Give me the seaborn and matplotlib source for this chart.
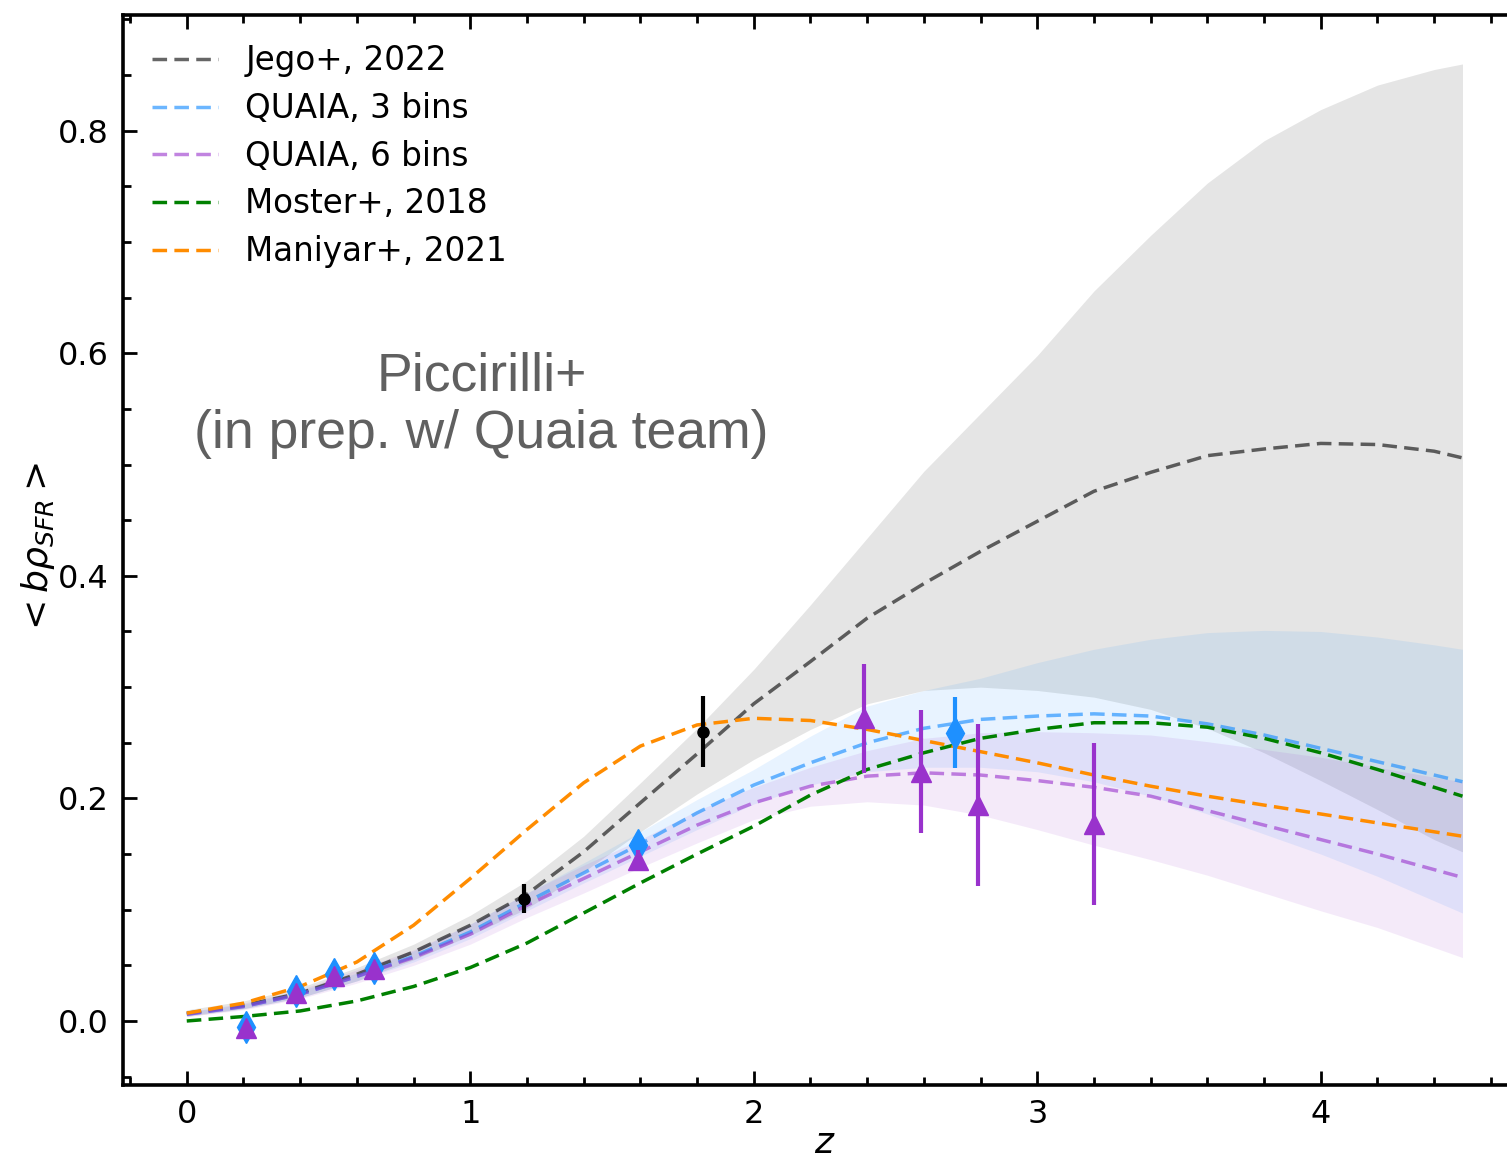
import numpy as np
import pandas as pd
import seaborn as sns
import matplotlib
matplotlib.use("Agg")
import matplotlib.pyplot as plt
from matplotlib.ticker import MultipleLocator

# Redshift grid of the model curves
z = [0.0, 0.2, 0.4, 0.6, 0.8, 1.0, 1.2, 1.4, 1.6, 1.8, 2.0, 2.2, 2.4, 2.6, 2.8,
     3.0, 3.2, 3.4, 3.6, 3.8, 4.0, 4.2, 4.4, 4.5]

# Jego+ 2022 model and its uncertainty band
jego = [0.007, 0.014, 0.025, 0.042, 0.062, 0.086, 0.114, 0.152, 0.196, 0.240, 0.285, 0.323,
        0.362, 0.393, 0.422, 0.449, 0.476, 0.493, 0.508, 0.514, 0.519, 0.518, 0.512, 0.506]
jego_lo = [0.004, 0.011, 0.021, 0.036, 0.055, 0.077, 0.101, 0.134, 0.170, 0.204, 0.235, 0.262,
           0.285, 0.297, 0.300, 0.297, 0.291, 0.280, 0.263, 0.241, 0.216, 0.190, 0.163, 0.152]
jego_hi = [0.010, 0.018, 0.030, 0.048, 0.069, 0.095, 0.126, 0.166, 0.214, 0.263, 0.316, 0.374,
           0.434, 0.494, 0.546, 0.598, 0.656, 0.706, 0.753, 0.791, 0.819, 0.841, 0.855, 0.860]

# QUAIA fits, 3 redshift bins
q3 = [0.006, 0.013, 0.024, 0.040, 0.058, 0.080, 0.107, 0.133, 0.159, 0.187, 0.212, 0.232,
      0.250, 0.263, 0.271, 0.274, 0.276, 0.274, 0.267, 0.257, 0.245, 0.233, 0.221, 0.215]
q3_lo = [0.005, 0.011, 0.021, 0.036, 0.053, 0.074, 0.099, 0.124, 0.148, 0.172, 0.195, 0.212,
         0.224, 0.228, 0.228, 0.224, 0.215, 0.202, 0.186, 0.168, 0.150, 0.130, 0.108, 0.097]
q3_hi = [0.008, 0.015, 0.027, 0.043, 0.063, 0.087, 0.115, 0.142, 0.170, 0.199, 0.226, 0.256,
         0.283, 0.297, 0.308, 0.322, 0.334, 0.343, 0.349, 0.351, 0.350, 0.345, 0.338, 0.334]

# QUAIA fits, 6 redshift bins
q6 = [0.006, 0.013, 0.024, 0.040, 0.057, 0.078, 0.104, 0.128, 0.152, 0.176, 0.196, 0.211,
      0.220, 0.223, 0.221, 0.216, 0.210, 0.202, 0.189, 0.176, 0.163, 0.150, 0.136, 0.129]
q6_lo = [0.004, 0.010, 0.020, 0.034, 0.050, 0.069, 0.093, 0.115, 0.138, 0.160, 0.181, 0.193,
         0.197, 0.194, 0.185, 0.172, 0.158, 0.145, 0.131, 0.115, 0.099, 0.084, 0.066, 0.057]
q6_hi = [0.008, 0.016, 0.028, 0.046, 0.064, 0.087, 0.115, 0.140, 0.163, 0.189, 0.210, 0.228,
         0.243, 0.254, 0.259, 0.260, 0.259, 0.257, 0.251, 0.244, 0.237, 0.228, 0.219, 0.215]

# Literature models
moster = [0.000, 0.004, 0.009, 0.018, 0.031, 0.048, 0.070, 0.097, 0.124, 0.150, 0.175, 0.203,
          0.226, 0.241, 0.254, 0.262, 0.268, 0.268, 0.264, 0.254, 0.241, 0.226, 0.210, 0.202]
maniyar = [0.007, 0.016, 0.031, 0.053, 0.086, 0.128, 0.172, 0.214, 0.247, 0.266, 0.272, 0.270,
           0.262, 0.252, 0.242, 0.232, 0.221, 0.211, 0.202, 0.194, 0.186, 0.178, 0.170, 0.166]

# Measurements with error bars
pts_k_z = [1.19, 1.82]
pts_k_y = [0.110, 0.260]
pts_k_err = [0.013, 0.032]

pts_q3_z = [0.21, 0.385, 0.52, 0.66, 1.59, 2.71]
pts_q3_y = [-0.005, 0.027, 0.042, 0.048, 0.158, 0.259]
pts_q3_err = [0.003, 0.003, 0.003, 0.003, 0.011, 0.032]

pts_q6_z = [0.21, 0.385, 0.52, 0.66, 1.59, 2.39, 2.59, 2.79, 3.20]
pts_q6_y = [-0.006, 0.025, 0.040, 0.047, 0.145, 0.272, 0.224, 0.194, 0.177]
pts_q6_err = [0.003, 0.003, 0.003, 0.003, 0.009, 0.049, 0.055, 0.073, 0.073]

labels = ["Jego+, 2022", "QUAIA, 3 bins", "QUAIA, 6 bins", "Moster+, 2018", "Maniyar+, 2021"]

sns.set_style("ticks")
plt.rcParams["font.family"] = ["DejaVu Sans"]
plt.rcParams["mathtext.fontset"] = "dejavusans"
plt.rcParams.update({"text.color": "black", "axes.labelcolor": "black",
                     "xtick.color": "black", "ytick.color": "black",
                     "axes.edgecolor": "black"})

fig = plt.figure(figsize=(15.07, 11.62), dpi=100)
ax = fig.add_axes([0.0816, 0.0663, 0.9312, 0.9208])

# Uncertainty bands
ax.fill_between(z, jego_lo, jego_hi, color="k", alpha=0.1, linewidth=0)
ax.fill_between(z, q3_lo, q3_hi, color="dodgerblue", alpha=0.1, linewidth=0)
ax.fill_between(z, q6_lo, q6_hi, color="darkorchid", alpha=0.1, linewidth=0)

curves = pd.DataFrame({"z": z, labels[0]: jego, labels[1]: q3, labels[2]: q6,
                       labels[3]: moster, labels[4]: maniyar})
styles = [("k", 0.6), ("dodgerblue", 0.65), ("darkorchid", 0.6), ("green", 1.0), ("darkorange", 1.0)]
for lab, (col, a) in zip(labels, styles):
    sns.lineplot(data=curves, x="z", y=lab, ax=ax, color=col, alpha=a,
                 linestyle="--", linewidth=2.5, label=lab)
for ln in ax.get_lines():
    ln.set_dashes((4.2, 2.1))

ax.errorbar(pts_k_z, pts_k_y, yerr=pts_k_err, fmt="o", color="k", ms=8,
            elinewidth=3, capsize=0, zorder=5)
ax.errorbar(pts_q3_z, pts_q3_y, yerr=pts_q3_err, fmt="d", color="dodgerblue", ms=16,
            elinewidth=3, capsize=0, zorder=5)
ax.errorbar(pts_q6_z, pts_q6_y, yerr=pts_q6_err, fmt="^", color="darkorchid", ms=14,
            elinewidth=3, capsize=0, zorder=6)

ax.text(1.04, 0.553, "Piccirilli+\n(in prep. w/ Quaia team)", ha="center", va="center",
        fontsize=38.5, color="#606060", family=["Liberation Sans"], linespacing=1.2)

ax.set_xlim(-0.225, 4.725)
ax.set_ylim(-0.0575, 0.904)
ax.xaxis.set_major_locator(MultipleLocator(1))
ax.xaxis.set_minor_locator(MultipleLocator(0.2))
ax.yaxis.set_major_locator(MultipleLocator(0.2))
ax.yaxis.set_minor_locator(MultipleLocator(0.05))
ax.tick_params(which="both", direction="in", top=True, right=True, width=2, labelsize=23)
ax.tick_params(which="major", length=10, pad=10)
ax.tick_params(which="minor", length=6)
for sp in ax.spines.values():
    sp.set_linewidth(2.6)

ax.set_xlabel("$z$", fontsize=26, labelpad=-3)
ax.set_ylabel(r"$<b\rho_{SFR}>$", fontsize=26, labelpad=1)

leg = ax.legend(loc="upper left", frameon=False, fontsize=23.5, handlelength=2.0,
                handletextpad=0.85, labelspacing=0.45, borderaxespad=0.5)
for h in leg.get_lines():
    h.set_dashes((4.2, 2.1))

fig.savefig("out.png", dpi=100)
